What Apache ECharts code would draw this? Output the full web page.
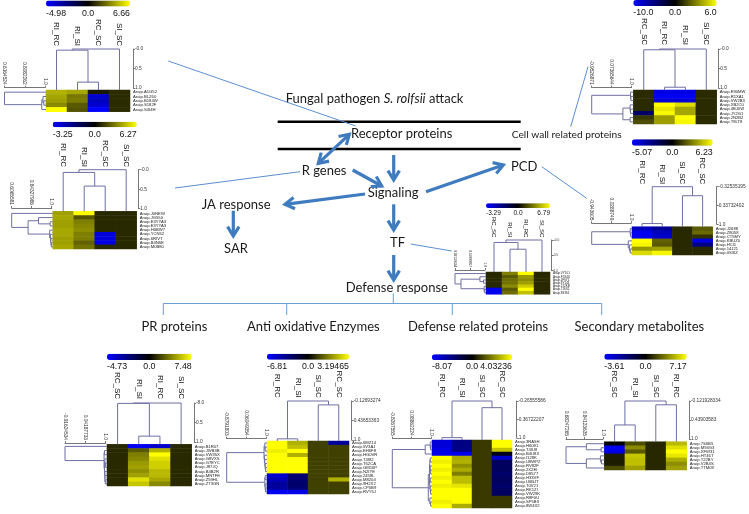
<!DOCTYPE html>
<html><head><meta charset="utf-8">
<style>html,body{margin:0;padding:0;background:#fff}#c{width:749px;height:514px;filter:blur(0.35px)}</style>
<script src="https://cdn.jsdelivr.net/npm/echarts@6/dist/echarts.min.js"></script>
</head><body><div id="c"></div>
<script>
// ---------- DATA: one block per heat map ----------
const receptorColumns=['RI_RC','RI_SI','RC_SC','SI_SC'];
const receptorRows=['A1G52','BLZ60','B184W','S182F','S4I4H'];
const receptorValues=[[4.66,4.33,0.67,1.13],[4.33,3.13,-3.98,1.13],[4.13,3.2,-3.73,1.13],[3.6,2.33,-4.08,1.13],[6.66,2.13,-4.98,1.13]];
const receptorRange=[-4.98,6.66];
const receptorTicks=['-4.98','0.0','6.66'];
const receptorTopTree=[0,[.03,0,[.85,1,2]],3];
const receptorLeftTree=[0,0,[.92,[.95,1,[.97,2,3]],4]];
const receptorTopScale=['-0.0','0.5','1.0'];
const receptorLeftScale=['0.6164524','0.8082262','1.0'];

const rGeneColumns=['RI_RC','RI_SI','RC_SC','SI_SC'];
const rGeneRows=['J0NEW','JG550','E3YYA3','E3YYA3','H0BW7','YCN52','6RIVT','B4N6E','M0B80'];
const rGeneValues=[[3.9,6.27,1,1],[4.1,2.1,1,1],[3.9,3.1,1,1],[3.9,3.3,1,1],[4.1,3.5,1,1],[4.1,3.1,-2.8,1],[3.9,3.1,-2.8,1],[3.9,2.4,-2.9,1],[4.1,2.8,1,1]];
const rGeneRange=[-3.25,6.27];
const rGeneTicks=['-3.25','0.0','6.27'];
const rGeneTopTree=[0,[.07,0,[.42,1,2]],3];
const rGeneLeftTree=[0,0,[.41,[.67,1,[.96,2,3]],[.95,4,[.97,5,[.98,6,[.99,7,8]]]]]];
const rGeneTopScale=['-0.0','0.5','1.0'];
const rGeneLeftScale=['0.6065581','0.84327986','1.0'];

const wallColumns=['RC_SC','RI_RC','RI_SI','SI_SC'];
const wallRows=['E90MW','R1XA1','VW2B3','XB2C0','4BJ0W','JY2G1','2N2B2','T8LT8'];
const wallValues=[[1,-9,-9,1],[1,-9.5,-9.5,1],[1,-8.5,-8.5,1],[1,6,5.2,1],[1,5.5,3.9,1],[-4,5.8,3.9,1],[1.3,3.7,6,1],[1.8,3.7,5.8,1]];
const wallRange=[-10,6];
const wallTicks=['-10.0','0.0','6.0'];
const wallTopTree=[0,[.02,0,[.98,1,2]],3];
const wallLeftTree=[0,[.97,0,[.98,1,2]],[.78,[.96,3,[.97,4,5]],[.96,6,7]]];
const wallTopScale=['-0.0','0.5','1.0'];
const wallLeftScale=['-0.9526871','0.07365644','1.0'];

const pcdColumns=['RI_RC','RI_SI','SI_SC','RC_SC'];
const pcdRows=['J2688','Z8058','CT5MY','KBUZ0','HCI1','14J21','0S3IZ'];
const pcdValues=[[-3.8,-3,1,2.2],[-4.8,-3.8,1,2.6],[-4.8,-4,1,1.2],[6.23,2.4,1,-4.5],[6,2.2,1,-2.6],[3.7,3.9,1,1],[5.3,6,1,1]];
const pcdRange=[-5.07,6.23];
const pcdTicks=['-5.07','0.0','6.23'];
const pcdTopTree=[0,[.98,0,1],[.24,2,3]];
const pcdLeftTree=[0,[.98,0,[.99,1,2]],[.93,3,[.96,4,[.98,5,6]]]];
const pcdTopScale=['-0.32535195','0.33732402','1.0'];
const pcdLeftScale=['-0.943605','0.0288749','1.0'];

const tfColumns=['RC_SC','RI_SI','RI_RC','SI_SC'];
const tfRows=['VY101','F5X4U','JF6Y1','8Y141','2J2KB','7J6S1','89394'];
const tfValues=[[1.1,3.4,6.79,1.1],[1.1,2.4,4.1,1.1],[1.1,2.9,3.7,1.1],[1.1,3,4.2,1.1],[1.1,3.7,5.4,1.1],[-3.1,2.4,6.79,1.1],[-3.1,2.9,5.1,1.1]];
const tfRange=[-3.29,6.79];
const tfTicks=['-3.29','0.0','6.79'];
const tfTopTree=[0,[.08,0,[.3,1,2]],3];
const tfLeftTree=[0,0,[.2,[.83,1,[.95,2,3]],[.97,4,[.98,5,6]]]];
const tfTopScale=['-0.0','0.5','1.0'];
const tfLeftScale=['0.02159334','0.51009917','1.0'];

const prColumns=['RC_SC','RI_SI','RI_RC','SI_SC'];
const prRows=['B1R07','JWB3B','VW35X','G8VXS','G7EYC','J87JQ','B4B2R','MNTFE','Z59HL','ZT3GN'];
const prValues=[[1.2,-4.5,-3.8,1.2],[1.2,2.6,5.2,1.2],[1.2,3.7,7.48,1.2],[1.2,4,6.6,1.2],[1.2,4.5,6.1,1.2],[1.2,4.7,6.1,1.2],[1.2,4.2,5.4,1.2],[1.2,4.7,5.4,1.2],[1.2,6.6,4.9,1.2],[1.2,5.8,4,1.2]];
const prRange=[-4.73,7.48];
const prTicks=['-4.73','0.0','7.48'];
const prTopTree=[0,[.01,0,[.85,1,2]],3];
const prLeftTree=[0,0,[.96,[.97,1,2],[.97,[.98,3,[.99,4,5]],[.98,6,[.98,7,[.99,8,9]]]]]];
const prTopScale=['-8.0','0.5','1.0'];
const prLeftScale=['-0.91624534','0.04187733','1.0'];

const oxColumns=['RI_RC','RI_SI','SI_SC','RC_SC'];
const oxRows=['6MZ14','5V3AJ','EH6F8','HG0VR','T4I82','T62CA','GM16P','N2IYE','2458L','M8204','9H2X2','CP0B9','RVY5J'];
const oxValues=[[3.19,2.2,.8,-4.2],[3.19,2.4,.8,.8],[3,3.19,.8,.8],[3.19,2.2,.8,.8],[3.19,3.19,.8,.8],[3.19,3.19,.8,.8],[3.19,3.19,.8,.8],[3.19,3.19,.8,.8],[-5.5,-3,.8,.8],[-5,-3,.8,2.2],[-4.2,-2.8,.8,.8],[-4.2,-3,.8,.8],[-6.4,-6.2,.8,.8]];
const oxRange=[-6.81,3.19465];
const oxTicks=['-6.81','0.0','3.19465'];
const oxTopTree=[0,[.97,0,1],[.1,2,3]];
const oxLeftTree=[0,[.95,[.97,0,[.98,1,2]],[.96,3,[.97,4,[.98,5,[.99,6,7]]]]],[.97,[.98,8,9],[.98,10,[.99,11,12]]]];
const oxTopScale=['-0.12693274','0.43653363','1.0'];
const oxLeftScale=['-0.8791803','0.06049354','1.0'];

const defColumns=['RI_RC','RI_SI','SI_SC','RC_SC'];
const defRows=['3RA5H','H6081','T4IU8','B4U8X','I128K','U8WPZ','RV82F','2X2EI','D8577','H33VF','U6BJT','T0V21','RK1ZI','VW29K','R8F0U','SP5B9','8W4X2'];
const defValues=[[-6.8,-4.2,.9,4.03],[-6.8,-4.2,.9,4.03],[-7.2,-4.2,.9,3.1],[-7.5,-7.5,.9,-.8],[4.03,2.7,.9,-6.4],[3.8,2.8,.9,-3],[4.03,2.3,.9,-3],[3.8,2.7,.9,-3],[4.03,2,.9,-3.4],[3.8,3,.9,-3],[4.03,3,.9,-3],[3.8,3.6,.9,-3.4],[4.03,4.03,.9,-3],[4.03,4.03,.9,-3],[4.03,4.03,.9,.9],[3.8,4.03,.9,.9],[4.03,2.7,.9,.9]];
const defRange=[-8.07,4.03236];
const defTicks=['-8.07','0.0','4.03236'];
const defTopTree=[0,[.99,0,1],[.18,2,3]];
const defLeftTree=[0,[.85,[.98,0,[.99,1,2]],3],[.93,[.96,[.97,[.98,4,5],[.98,6,[.99,7,8]]],[.97,[.98,9,10],[.98,11,[.99,12,13]]]],[.97,14,[.99,15,16]]]];
const defTopScale=['-0.26555586','0.36722207','1.0'];
const defLeftScale=['-0.8267555','0.08862224','1.0'];

const secColumns=['RC_SC','RI_SI','SI_SC','RI_RC'];
const secRows=['7S6B5','M94G3','XFW31','HT46T','T22BY','V2B4S','TTM09'];
const secValues=[[-.1,2.2,1.1,5.2],[-3.4,3.9,1.1,6.3],[-3.2,2.5,1.1,7.17],[.8,5.6,1.1,6.5],[.8,5.4,1.1,4.9],[.8,5.4,1.1,4],[2.1,4.5,1.1,4.5]];
const secRange=[-3.61,7.17];
const secTicks=['-3.61','0.0','7.17'];
const secTopTree=[0,[.63,0,1],[.1,2,3]];
const secLeftTree=[0,[.55,0,[.95,1,2]],[.55,[.93,3,[.96,4,5]],6]];
const secTopScale=['-0.121928334','0.43903583','1.0'];
const secLeftScale=['0.68247265','0.84123635','1.0'];

// ---------- LAYOUT ----------
const big={bar:8.8,col:8,row:4.2,scale:4.8};
const panels=[
 {cols:receptorColumns,rows:receptorRows,vals:receptorValues,range:receptorRange,ticks:receptorTicks,top:receptorTopTree,left:receptorLeftTree,topS:receptorTopScale,leftS:receptorLeftScale,
  x:46,w:84,barY:.5,barH:6,labY:14,colB:46,y:90,h:21.7,ax:133,ay0:49,ay1:88,ly:87.7,lx0:4.5,lx1:45,f:big},
 {cols:rGeneColumns,rows:rGeneRows,vals:rGeneValues,range:rGeneRange,ticks:rGeneTicks,top:rGeneTopTree,left:rGeneLeftTree,topS:rGeneTopScale,leftS:rGeneLeftScale,
  x:52.7,w:84,barY:121.7,barH:5.6,labY:134.7,colB:167,y:211.3,h:37.7,ax:138.3,ay0:169.7,ay1:208.7,ly:208,lx0:11.7,lx1:51.7,f:big},
 {cols:wallColumns,rows:wallRows,vals:wallValues,range:wallRange,ticks:wallTicks,top:wallTopTree,left:wallLeftTree,topS:wallTopScale,leftS:wallLeftScale,
  x:633.3,w:83.4,barY:0,barH:6,labY:12.7,colB:45,y:90,h:34,ax:718.3,ay0:49,ay1:88,ly:87.7,lx0:591.7,lx1:631.7,f:big},
 {cols:pcdColumns,rows:pcdRows,vals:pcdValues,range:pcdRange,ticks:pcdTicks,top:pcdTopTree,left:pcdLeftTree,topS:pcdTopScale,leftS:pcdLeftScale,
  x:632,w:80.7,barY:139.3,barH:6.4,labY:153,colB:184.3,y:226.7,h:28.3,ax:716.7,ay0:186.7,ay1:224.3,ly:223.3,lx0:591.7,lx1:631,f:big},
 {cols:tfColumns,rows:tfRows,vals:tfValues,range:tfRange,ticks:tfTicks,top:tfTopTree,left:tfLeftTree,topS:tfTopScale,leftS:tfLeftScale,
  x:486,w:64,barY:203.3,barH:4.7,labY:213.3,colB:237.3,y:272,h:22.3,ax:551.7,ay0:240,ay1:270.7,ly:270,lx0:455,lx1:485,f:{bar:6.5,col:6,row:3,scale:3.2}},
 {cols:prColumns,rows:prRows,vals:prValues,range:prRange,ticks:prTicks,top:prTopTree,left:prLeftTree,topS:prTopScale,leftS:prLeftScale,
  x:107,w:84.7,barY:353.7,barH:6.3,labY:367,colB:399,y:444.3,h:41.7,ax:194,ay0:403,ay1:442,ly:443,lx0:65,lx1:105.7,f:big},
 {cols:oxColumns,rows:oxRows,vals:oxValues,range:oxRange,ticks:oxTicks,top:oxTopTree,left:oxLeftTree,topS:oxTopScale,leftS:oxLeftScale,
  x:267,w:82,barY:353.7,barH:6,labY:366.3,colB:397.7,y:441,h:53,ax:351.7,ay0:401,ay1:440,ly:438.7,lx0:226.7,lx1:266,f:big},
 {cols:defColumns,rows:defRows,vals:defValues,range:defRange,ticks:defTicks,top:defTopTree,left:defLeftTree,topS:defTopScale,leftS:defLeftScale,
  x:432,w:80,barY:354.3,barH:5.7,labY:366.3,colB:397.7,y:440,h:68,ax:516.7,ay0:401,ay1:438,ly:438.7,lx0:392.3,lx1:431,f:big},
 {cols:secColumns,rows:secRows,vals:secValues,range:secRange,ticks:secTicks,top:secTopTree,left:secLeftTree,topS:secTopScale,leftS:secLeftScale,
  x:604.3,w:82.4,barY:353.7,barH:6,labY:366.3,colB:397.7,y:441.7,h:28.3,ax:689,ay0:401,ay1:439,ly:439,lx0:566,lx1:603,f:big}
];

const DENDRO='#6f6fa3', AXIS='#777', SANS='"Liberation Sans",Arial,sans-serif', FLOW='Lato,"Open Sans",sans-serif';
const ARROW='#3f7cbf', THIN='#5b8fd0', TREE='#6a9ed6';

function flatten(tree,leafH,segs){
  if(typeof tree==='number') return {p:tree+.5,h:leafH};
  const a=flatten(tree[1],leafH,segs), b=flatten(tree[2],leafH,segs);
  segs.push([a.p,a.h,b.p,b.h,tree[0]]);
  return {p:(a.p+b.p)/2,h:tree[0]};
}
function dendroRender(horizontal){
  return function(params,api){
    const p1=api.value(0),h1=api.value(1),p2=api.value(2),h2=api.value(3),h=api.value(4);
    const pt=(p,v)=>horizontal?api.coord([v,p]):api.coord([p,v]);
    return {type:'polyline',silent:true,shape:{points:[pt(p1,h1),pt(p1,h),pt(p2,h),pt(p2,h2)]},
      style:{stroke:DENDRO,lineWidth:1,fill:null}};
  };
}

const grid=[],xAxis=[],yAxis=[],series=[],visualMap=[],graphic=[];
panels.forEach(p=>{
  const g0=grid.length;
  grid.push({left:p.x,top:p.y,width:p.w,height:p.h,containLabel:false});
  grid.push({left:p.x,top:p.ay0,width:p.w,height:p.ay1-p.ay0,containLabel:false});
  grid.push({left:p.lx0,top:p.y,width:p.lx1-p.lx0,height:p.h,containLabel:false});
  // heat map axes
  xAxis.push({gridIndex:g0,type:'category',data:p.cols,position:'top',axisLine:{show:false},axisTick:{show:false},splitLine:{show:false},
    axisLabel:{rotate:90,margin:p.y-p.colB,fontSize:p.f.col,fontFamily:SANS,color:'#111',interval:0}});
  yAxis.push({gridIndex:g0,type:'category',data:p.rows.map(r=>'Araip.'+r),position:'right',inverse:true,axisLine:{show:false},axisTick:{show:false},splitLine:{show:false},
    axisLabel:{margin:3,fontSize:p.f.row,fontFamily:SANS,color:'#222',interval:0}});
  // top tree axes
  xAxis.push({gridIndex:g0+1,type:'value',min:0,max:p.cols.length,show:false});
  yAxis.push({gridIndex:g0+1,type:'value',min:0,max:1,interval:.5,inverse:true,position:'right',offset:p.ax-(p.x+p.w),
    splitLine:{show:false},axisLine:{show:true,onZero:false,lineStyle:{color:AXIS}},axisTick:{show:true,length:2,lineStyle:{color:AXIS}},
    axisLabel:{show:true,margin:2,fontSize:p.f.scale,fontFamily:SANS,color:'#333',formatter:(v,i)=>p.topS[i]}});
  // left tree axes
  xAxis.push({gridIndex:g0+2,type:'value',min:0,max:1,interval:.5,position:'top',offset:p.y-p.ly,
    splitLine:{show:false},axisLine:{show:true,onZero:false,lineStyle:{color:AXIS}},axisTick:{show:true,length:2,lineStyle:{color:AXIS}},
    axisLabel:{show:true,rotate:90,margin:3,fontSize:p.f.scale,fontFamily:SANS,color:'#333',formatter:(v,i)=>p.leftS[i]}});
  yAxis.push({gridIndex:g0+2,type:'value',min:0,max:p.rows.length,inverse:true,show:false});

  const [lo,hi]=p.range, heat=[];
  p.vals.forEach((row,r)=>row.forEach((v,c)=>{
    heat.push([c,r,v,Math.max(-1,Math.min(1,v>=0?v/hi:v/-lo))]);
  }));
  visualMap.push({type:'continuous',seriesIndex:series.length,dimension:3,min:-1,max:1,orient:'horizontal',
    left:p.x,top:p.barY,itemWidth:p.barH,itemHeight:p.w,padding:0,calculable:false,text:null,hoverLink:false,
    inRange:{color:['#0000ff','#000000','#ffff00']}});
  series.push({type:'heatmap',xAxisIndex:g0,yAxisIndex:g0,data:heat,silent:true,progressive:0,itemStyle:{borderWidth:0}});

  const topSegs=[];flatten(p.top,1+(p.y-p.ay1)/(p.ay1-p.ay0),topSegs);
  series.push({type:'custom',xAxisIndex:g0+1,yAxisIndex:g0+1,clip:false,silent:true,data:topSegs,renderItem:dendroRender(false)});
  const leftSegs=[];flatten(p.left,1+(p.x-p.lx1)/(p.lx1-p.lx0),leftSegs);
  series.push({type:'custom',xAxisIndex:g0+2,yAxisIndex:g0+2,clip:false,silent:true,data:leftSegs,renderItem:dendroRender(true)});

  // colour bar tick labels
  [[p.x,'left'],[p.x+p.w/2,'center'],[p.x+p.w,'right']].forEach((t,i)=>{
    graphic.push({type:'text',x:t[0],y:p.labY,silent:true,style:{text:p.ticks[i],align:t[1],verticalAlign:'middle',
      font:p.f.bar+'px '+SANS,fill:'#111'}});
  });
});

// ---------- pathway diagram ----------
function txt(s,x,y,size,align){
  graphic.push({type:'text',x,y,silent:true,style:{text:s,align:align||'left',verticalAlign:'middle',font:size+'px '+FLOW,fill:'#1a1a1a'}});
}
function seg(x1,y1,x2,y2,color,w){
  graphic.push({type:'line',silent:true,shape:{x1,y1,x2,y2},style:{stroke:color,lineWidth:w}});
}
function head(x1,y1,x2,y2){
  const a=Math.atan2(y2-y1,x2-x1),L=11,d=.55;
  graphic.push({type:'polyline',silent:true,shape:{points:[[x2-L*Math.cos(a-d),y2-L*Math.sin(a-d)],[x2,y2],[x2-L*Math.cos(a+d),y2-L*Math.sin(a+d)]]},
    style:{stroke:ARROW,lineWidth:3.2,fill:null,lineJoin:'miter'}});
}
function arrow(x1,y1,x2,y2,both){
  seg(x1,y1,x2,y2,ARROW,3.2);head(x1,y1,x2,y2);if(both)head(x2,y2,x1,y1);
}
seg(277.7,121.7,520.7,121.7,'#000',2.6);
seg(277.7,149,520.7,149,'#000',2.6);
graphic.push({type:'text',x:285.7,y:99.3,silent:true,style:{text:'{a|Fungal pathogen }{i|S. rolfsii}{a| attack}',verticalAlign:'middle',
  rich:{a:{font:'13px '+FLOW,fill:'#1a1a1a'},i:{font:'italic 13px '+FLOW,fill:'#1a1a1a'}}}});
txt('Receptor proteins',351,133.7,13);
txt('Cell wall related proteins',511.7,135,10.2);
txt('R genes',301.7,170.7,13);
txt('Signaling',367.7,192.7,13);
txt('PCD',511,166.7,13);
txt('JA response',201.7,205.3,13);
txt('SAR',224,249.3,13);
txt('TF',390,243.3,13);
txt('Defense response',345.7,288.3,13);
txt('PR proteins',141.5,327,13);
txt('Anti oxidative Enzymes',247,327,13);
txt('Defense related proteins',408,327,13);
txt('Secondary metabolites',574.5,327,13);

arrow(318.3,163.3,349.3,134.3,true);
arrow(352.7,170,381.7,186);
arrow(393.7,155,393.7,180);
arrow(426,191.7,503.3,165);
arrow(365,194,285,204.3);
arrow(233.3,210.7,233.3,236);
arrow(393.7,204.3,393.7,230);
arrow(393.7,255,393.7,280);

seg(168.3,61,355.7,126,THIN,1);
seg(300,171.7,175,188,THIN,1);
seg(570.7,126.7,588,66.7,THIN,1);
seg(541.7,166.7,586.7,198.3,THIN,1);
seg(410.7,244,451.7,251,THIN,1);

seg(393.3,293.3,393.3,303.5,TREE,1);
seg(163.3,303.5,601.7,303.5,TREE,1);
[163.3,286.7,452.3,601.7].forEach(x=>seg(x,303.5,x,315,TREE,1));

const chart=echarts.init(document.getElementById('c'),null,{renderer:'canvas'});
chart.setOption({animation:false,backgroundColor:'#fff',tooltip:{show:false},grid,xAxis,yAxis,visualMap,series,graphic:{elements:graphic}});
</script></body></html>
